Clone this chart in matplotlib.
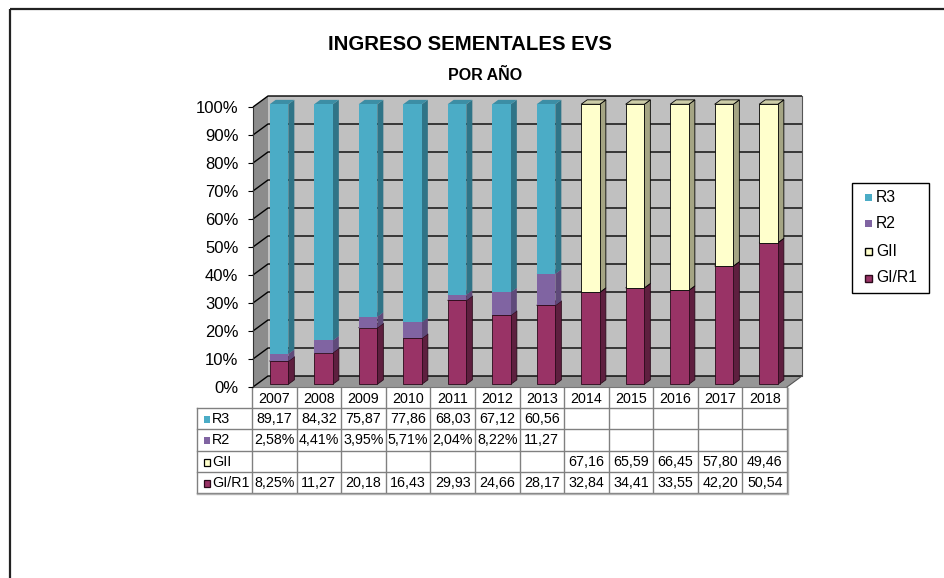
import matplotlib
matplotlib.use('Agg')
import matplotlib.pyplot as plt
from matplotlib.patches import Polygon, Rectangle
import numpy as np

plt.rcParams['font.family'] = ['Liberation Sans', 'DejaVu Sans']

# ---------------- data ----------------
years = ['2007', '2008', '2009', '2010', '2011', '2012', '2013',
         '2014', '2015', '2016', '2017', '2018']
nan = np.nan
r3 = [89.17, 84.32, 75.87, 77.86, 68.03, 67.12, 60.56, nan, nan, nan, nan, nan]
r2 = [2.58, 4.41, 3.95, 5.71, 2.04, 8.22, 11.27, nan, nan, nan, nan, nan]
gii = [nan, nan, nan, nan, nan, nan, nan, 67.16, 65.59, 66.45, 57.80, 49.46]
gi_r1 = [8.25, 11.27, 20.18, 16.43, 29.93, 24.66, 28.17, 32.84, 34.41, 33.55, 42.20, 50.54]
y_ticks = [0, 10, 20, 30, 40, 50, 60, 70, 80, 90, 100]

title = 'INGRESO SEMENTALES EVS'
subtitle = 'POR AÑO'

# series: name, values, front, side, top, edge
series = [
    ('GI/R1', gi_r1, '#993366', '#5E1F3F', '#7A2952', '#2A0A1A'),
    ('GII', gii, '#FFFFCC', '#A5A584', '#CDCDA8', '#000000'),
    ('R2', r2, '#8064A2', '#5F4A7A', '#6E5690', None),
    ('R3', r3, '#4BACC6', '#2F7487', '#3C8EA5', None),
]
table_order = ['R3', 'R2', 'GII', 'GI/R1']

W, H = 944, 578
fig = plt.figure(figsize=(W / 100, H / 100), dpi=100)


def px_rect(l, t, r, b):
    return [l / W, 1 - b / H, (r - l) / W, (b - t) / H]


# overlay axes in pixel coordinates
ov = fig.add_axes([0, 0, 1, 1], zorder=0)
ov.set_xlim(0, W)
ov.set_ylim(H, 0)
ov.axis('off')

# main chart axes
L, R, T, B = 253, 787, 107, 387
ax = fig.add_axes(px_rect(L, T, R, B), zorder=1)
ax.set_xlim(-0.5, 11.5)
ax.set_ylim(0, 100)
ax.patch.set_visible(False)
n = len(years)
DX = 15 / (R - L) * n
DY = 11 / (B - T) * 100

x_left, x_right = -0.5, n - 0.5
# walls
ax.add_patch(Polygon([(x_left, 0), (x_left, 100), (x_left + DX, 100 + DY), (x_left + DX, DY)],
                     closed=True, facecolor='#8C8C8C', edgecolor='none', zorder=0.5, clip_on=False))
ax.add_patch(Polygon([(x_left + DX, DY), (x_right + DX, DY), (x_right + DX, 100 + DY), (x_left + DX, 100 + DY)],
                     closed=True, facecolor='#C0C0C0', edgecolor='none', zorder=0.5, clip_on=False))
ax.add_patch(Polygon([(x_left, 0), (x_right, 0), (x_right + DX, DY), (x_left + DX, DY)],
                     closed=True, facecolor='#969696', edgecolor='none', zorder=0.5, clip_on=False))
# gridlines
for yv in y_ticks:
    ax.plot([x_left, x_left + DX, x_right + DX], [yv, yv + DY, yv + DY],
            color='#000000', lw=1.0, zorder=1, clip_on=False, solid_capstyle='butt')
ax.plot([x_right + DX, x_right + DX], [DY, 100 + DY], color='#555555', lw=0.8, zorder=1, clip_on=False)
ax.plot([x_right, x_right + DX], [0, DY], color='#555555', lw=0.8, zorder=1, clip_on=False)
ax.plot([x_left, x_right], [0, 0], color='#777777', lw=0.8, zorder=1, clip_on=False)

# bars
bw = 0.42
f0, f1 = 0.25, 0.65
bd, bdy = (f1 - f0) * DX, (f1 - f0) * DY
bottoms = np.zeros(n)
for name, vals, front, side, top, edge in series:
    vals = np.array(vals, dtype=float)
    for i in range(n):
        v = vals[i]
        if not np.isfinite(v):
            continue
        xc = i + f0 * DX
        x0, x1 = xc - bw / 2, xc + bw / 2
        yb = bottoms[i] + f0 * DY
        yt = yb + v
        lw = 0.6 if edge else 0
        ec = edge if edge else 'none'
        ax.add_patch(Polygon([(x1, yb), (x1 + bd, yb + bdy), (x1 + bd, yt + bdy), (x1, yt)],
                             closed=True, facecolor=side, edgecolor=ec, lw=lw, zorder=3, clip_on=False))
        ax.add_patch(Polygon([(x0, yt), (x1, yt), (x1 + bd, yt + bdy), (x0 + bd, yt + bdy)],
                             closed=True, facecolor=top, edgecolor=ec, lw=lw, zorder=3, clip_on=False))
        ax.bar(xc, v, bottom=yb, width=bw, color=front, edgecolor=ec, linewidth=lw, zorder=3, clip_on=False)
    bottoms = bottoms + np.nan_to_num(vals)

ax.set_xticks([])
ax.set_yticks(y_ticks)
ax.set_yticklabels([f'{v}%' for v in y_ticks], fontsize=12)
ax.tick_params(axis='y', direction='out', length=3.6, width=0.8, pad=7, colors='#000000')
for s in ['top', 'right', 'bottom']:
    ax.spines[s].set_visible(False)
ax.spines['left'].set_color('#333333')
ax.spines['left'].set_linewidth(0.8)

# titles
ov.text(470, 44, title, ha='center', va='center', fontsize=14.7, fontweight='bold')
ov.text(485, 75, subtitle, ha='center', va='center', fontsize=11.5, fontweight='bold')

# frame
ov.plot([10, W], [9, 9], color='#222222', lw=1.6, solid_capstyle='butt')
ov.plot([10, 10], [9, H], color='#222222', lw=1.6, solid_capstyle='butt')

# data table
lab_l = 197
col_w = (R - L + 1) / n
col_x = [L - 1 + k * col_w for k in range(n + 1)]
row_y = [388, 408, 429, 451, 472, 493]
gc = '#808080'
for k, xv in enumerate(col_x):
    ov.plot([xv, xv], [row_y[0], row_y[-1]], color=gc, lw=1.0)
ov.plot([lab_l, lab_l], [row_y[1], row_y[-1]], color=gc, lw=1.0)
for yv in row_y[1:]:
    ov.plot([lab_l, col_x[-1]], [yv, yv], color=gc, lw=1.0)
ov.plot([lab_l, col_x[-1]], [row_y[-1] + 1, row_y[-1] + 1], color='#B0B0B0', lw=1.0)
ov.plot([col_x[-1] + 1, col_x[-1] + 1], [row_y[0], row_y[-1] + 1], color='#B0B0B0', lw=1.0)

for k, yr in enumerate(years):
    ov.text((col_x[k] + col_x[k + 1]) / 2, (row_y[0] + row_y[1]) / 2 + 1, yr,
            ha='center', va='center', fontsize=10.3)


def fmt(v):
    s = f'{v:.2f}'.replace('.', ',')
    return s + '%' if v < 10 else s


lookup = {s[0]: s for s in series}
for r, name in enumerate(table_order):
    _, vals, front, side, top, edge = lookup[name]
    yc = (row_y[r + 1] + row_y[r + 2]) / 2 + 0.5
    ov.add_patch(Rectangle((204, yc - 3.5), 6, 7, facecolor=front,
                           edgecolor=edge if edge else 'none', lw=0.9 if edge else 0))
    ov.text(212, yc, name, ha='left', va='center', fontsize=10.3)
    for k, v in enumerate(vals):
        if np.isfinite(v):
            ov.text((col_x[k] + col_x[k + 1]) / 2, yc, fmt(v), ha='center', va='center', fontsize=10.3)

# legend
ov.add_patch(Rectangle((852, 183), 77, 110, facecolor='white', edgecolor='#000000', lw=1.0))
leg_y = [197, 223, 251, 278]
for name, yc in zip(table_order, leg_y):
    _, vals, front, side, top, edge = lookup[name]
    ov.add_patch(Rectangle((865, yc - 3.5), 7, 7, facecolor=front,
                           edgecolor=edge if edge else 'none', lw=1.0 if edge else 0))
    ov.text(876, yc, name, ha='left', va='center', fontsize=11.3)

fig.savefig('out.png', dpi=100)
